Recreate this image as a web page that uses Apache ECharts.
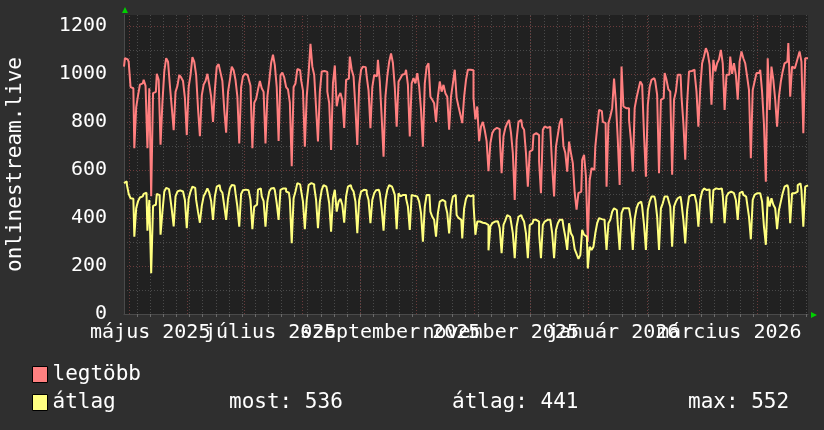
<!DOCTYPE html>
<html><head><meta charset="utf-8">
<script src="https://cdn.jsdelivr.net/npm/echarts@6/dist/echarts.min.js"></script>
<style>html,body{margin:0;padding:0;background:#2f2f2f;}#c{width:824px;height:430px;}</style>
</head><body><div id="c"></div>
<script>
// ---- data ----
const startDate = '2025-04-28';
const dayCount = 366;

// legtöbb (max) – daily values, week rows Mon..Sun
const legtobb = [
1030,1065,1060,1050,945,940,690,
860,910,955,960,975,950,690,
940,490,920,925,1000,975,705,
880,1010,1065,1050,950,860,765,
925,950,995,985,970,900,745,
945,995,1070,1050,995,855,740,
910,955,970,1000,955,905,800,
935,1030,1040,1005,970,850,755,
925,975,1030,1015,975,905,710,
945,990,1000,995,980,950,690,
880,895,935,970,940,925,710,
905,970,1045,1080,1035,945,720,
995,1005,985,945,935,880,615,
945,960,1020,1015,975,930,697,
905,1000,1125,1030,995,857,718,
925,1010,1012,1008,926,878,683,
960,1035,865,905,920,890,775,
975,980,1072,1017,989,857,704,
955,1017,1030,1028,989,930,774,
945,995,990,1058,968,820,655,
905,990,1050,1085,1045,945,780,
968,982,996,1000,1017,954,739,
960,982,960,1003,947,850,697,
960,1030,1044,905,892,878,800,
905,968,926,954,919,905,767,
905,960,1017,900,864,830,795,
905,975,1017,1017,1015,900,810,
864,720,780,800,765,720,595,
711,753,767,775,770,740,586,
740,775,795,808,755,670,475,
725,800,808,780,767,670,530,
676,683,746,753,745,635,503,
767,781,775,780,767,614,489,
697,746,795,815,700,670,593,
718,670,628,505,435,503,510,
642,663,572,301,558,607,600,
697,775,850,845,800,795,530,
794,822,857,980,878,725,537,
1030,864,857,857,808,725,593,
857,900,935,968,955,746,572,
870,945,975,982,968,912,586,
892,899,1003,975,935,926,580,
892,926,996,996,905,795,642,
880,1010,1012,1017,1003,926,780,
940,1044,1072,1107,1086,1037,871,
1058,1010,1044,1060,1100,1044,850,
996,996,1072,1000,1044,996,892,
1051,1093,1065,1044,989,933,649,
933,968,1003,1003,1017,925,790,
551,1065,850,1030,975,892,780,
905,968,1010,1044,1051,1128,905,
1030,1023,1037,1065,1093,1051,753,
1065,1065
];

// átlag (average) – daily values
const atlag = [
545,552,540,500,482,480,322,
440,470,485,490,500,505,347,
475,170,450,455,500,495,330,
425,510,525,520,495,435,365,
490,510,515,510,505,475,357,
480,510,530,525,475,425,380,
450,490,505,523,505,470,392,
490,530,537,516,505,450,392,
480,523,537,535,503,447,364,
500,515,518,515,510,475,353,
447,455,518,523,490,470,364,
468,510,523,525,515,461,392,
517,523,523,510,505,475,295,
482,510,545,540,515,468,353,
475,537,545,540,530,475,357,
468,517,537,530,510,461,343,
482,517,426,468,480,454,380,
489,530,537,523,510,468,336,
475,510,517,515,503,475,378,
475,503,515,517,503,440,347,
475,517,537,530,520,496,353,
503,490,496,495,482,447,350,
496,492,489,490,468,420,301,
447,496,496,426,405,392,322,
420,468,475,468,454,420,336,
447,489,496,412,400,392,315,
440,480,495,490,495,460,330,
385,385,380,383,378,370,265,
364,378,385,386,380,357,253,
371,390,412,405,385,336,232,
364,405,412,400,385,336,232,
370,378,392,392,385,336,232,
371,385,392,392,390,336,232,
350,378,392,392,364,322,267,
378,336,322,270,250,230,245,
350,330,322,190,280,267,280,
336,378,399,395,392,380,267,
378,392,426,440,433,371,267,
420,440,440,440,440,392,267,
395,440,461,468,447,371,267,
433,468,489,489,475,405,267,
440,461,489,489,475,447,280,
447,468,482,489,461,392,294,
433,489,496,496,489,461,364,
475,510,523,516,518,496,378,
516,523,520,516,523,496,378,
489,503,510,503,496,475,392,
503,510,496,489,461,405,311,
475,496,503,503,510,468,364,
288,489,447,482,455,440,353,
433,468,503,530,537,523,378,
503,503,510,537,544,516,364,
530,536
];

const yTickLabels = [0, 200, 400, 600, 800, 1000, 1200];
const monthStarts = ['2025-05-01','2025-06-01','2025-07-01','2025-08-01','2025-09-01','2025-10-01',
  '2025-11-01','2025-12-01','2026-01-01','2026-02-01','2026-03-01','2026-04-01'];
const monthLabelDays = ['2025-05-12','2025-07-15','2025-09-17','2025-11-15','2026-01-14','2026-03-17'];
const monthLabels = ['május 2025','július 2025','szeptember 2025','november 2025','január 2026','március 2026'];
const seriesNames = ['legtöbb', 'átlag'];
const statLabels = ['most: 536', 'átlag: 441', 'max: 552'];

// ---- categories (one per day) ----
const days = [];
{
  const t0 = Date.UTC(2025, 3, 28);
  for (let i = 0; i < dayCount; i++) {
    days.push(new Date(t0 + i * 86400000).toISOString().slice(0, 10));
  }
}
const labelMap = {};
monthLabelDays.forEach((d, i) => { labelMap[d] = monthLabels[i]; });

const FONT = 'DejaVu Sans Mono';
const weekly = (i) => i > 0 && i % 7 === 0;

const chart = echarts.init(document.getElementById('c'), null, { renderer: 'canvas' });
chart.setOption({
  backgroundColor: '#2f2f2f',
  animation: false,
  grid: { left: 124, right: 16, top: 15, bottom: 116, outerBoundsMode: 'none', containLabel: false,
          show: true, backgroundColor: '#212121', borderWidth: 0 },
  xAxis: {
    type: 'category', data: days, boundaryGap: false,
    axisLine: { show: true, lineStyle: { color: '#4a4a4a' } },
    axisTick: { show: true, interval: weekly, length: 3, lineStyle: { color: '#6a6a6a' } },
    axisLabel: {
      interval: (i, v) => i === 0 || i === dayCount - 1 || labelMap[v] !== undefined,
      formatter: (v) => labelMap[v] || ' ',
      hideOverlap: false,
      color: '#ffffff', fontFamily: FONT, fontSize: 20, margin: 9
    },
    splitLine: { show: true, interval: weekly, lineStyle: { color: '#4a4a4a', type: [1, 2], width: 1 } }
  },
  yAxis: {
    type: 'value', min: 0, max: 1245, interval: 100,
    name: 'onlinestream.live', nameLocation: 'middle', nameGap: 98,
    nameTextStyle: { color: '#ffffff', fontFamily: FONT, fontSize: 21 },
    axisLine: { show: true, lineStyle: { color: '#4a4a4a' } },
    axisTick: { show: false },
    axisLabel: {
      formatter: (v) => (yTickLabels.indexOf(v) >= 0 ? String(v) : ''),
      color: '#ffffff', fontFamily: FONT, fontSize: 20, margin: 17, showMaxLabel: false
    },
    splitLine: { show: true, showMaxLine: false, lineStyle: { color: ['#6b3b3b', '#4a4a4a'], type: [1, 2], width: 1 } }
  },
  legend: {
    orient: 'vertical', left: 32, top: 364, padding: 0, itemWidth: 15, itemHeight: 16, itemGap: 7,
    selectedMode: false, icon: 'rect',
    textStyle: { color: '#ffffff', fontFamily: FONT, fontSize: 21 },
    data: [
      { name: seriesNames[0], itemStyle: { color: '#ff8080', borderColor: '#000', borderWidth: 1 } },
      { name: seriesNames[1], itemStyle: { color: '#ffff80', borderColor: '#000', borderWidth: 1 } }
    ]
  },
  graphic: [
    { type: 'text', left: 229, top: 392, style: { text: statLabels[0], fill: '#ffffff', font: '21px "DejaVu Sans Mono"' } },
    { type: 'text', left: 452, top: 392, style: { text: statLabels[1], fill: '#ffffff', font: '21px "DejaVu Sans Mono"' } },
    { type: 'text', left: 688, top: 392, style: { text: statLabels[2], fill: '#ffffff', font: '21px "DejaVu Sans Mono"' } },
    { type: 'polygon', shape: { points: [[122, 13], [128, 13], [125, 7]] }, style: { fill: '#00d000' } },
    { type: 'polygon', shape: { points: [[811, 312], [811, 318], [817, 315]] }, style: { fill: '#00d000' } }
  ],
  series: [
    {
      name: seriesNames[0], type: 'line', data: legtobb, step: 'middle', symbol: 'none', z: 3,
      lineStyle: { color: '#ff7f7f', width: 2 }, itemStyle: { color: '#ff8080' },
      markLine: {
        silent: true, symbol: 'none', z: 1, label: { show: false },
        lineStyle: { color: '#6b3b3b', type: [1, 2], width: 1 },
        data: monthStarts.map((d) => ({ xAxis: d }))
      }
    },
    {
      name: seriesNames[1], type: 'line', data: atlag, step: 'middle', symbol: 'none', z: 4,
      lineStyle: { color: '#ffff7f', width: 2 }, itemStyle: { color: '#ffff80' }
    }
  ]
});
</script>
</body></html>
